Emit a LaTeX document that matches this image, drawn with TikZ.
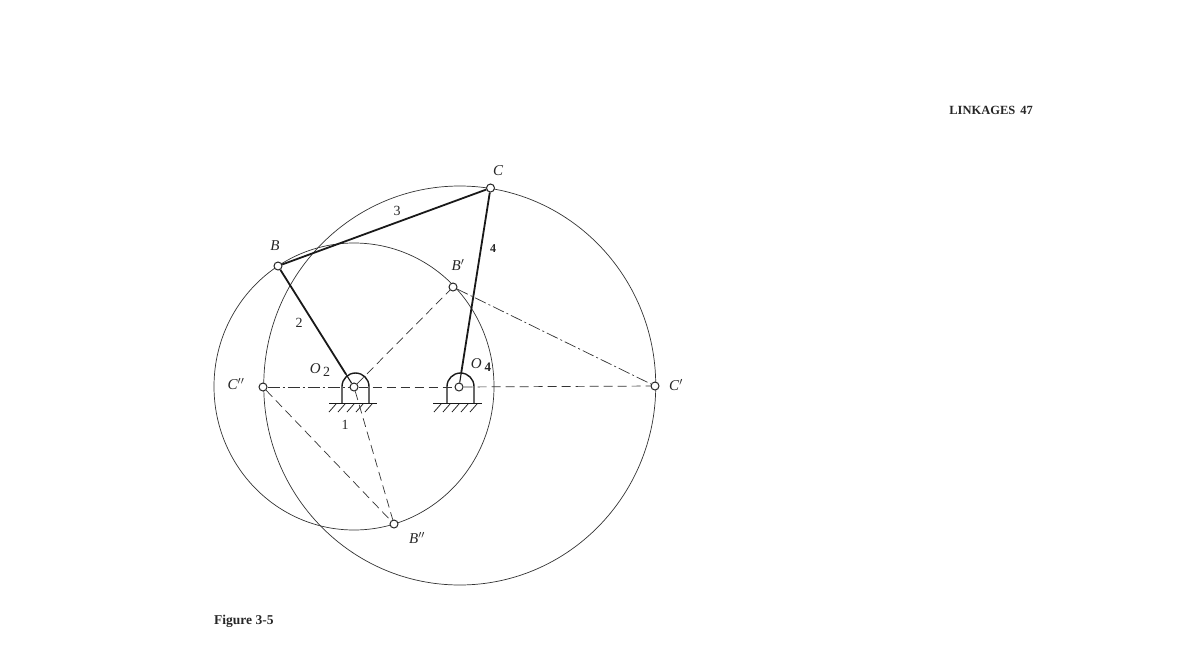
\documentclass[tikz,border=0pt]{standalone}
\usepackage{fontspec}
\usetikzlibrary{shapes.geometric,calc}
\setmainfont{Liberation Serif}
\tikzset{
  pivot/.style={circle,draw=black!85,fill=white,line width=1pt,inner sep=0pt,minimum size=8pt},
  orbit/.style={ellipse,draw=black!80,line width=0.7pt,inner sep=0pt},
  link/.style={draw=black!90,line width=1.8pt},
  pinlink/.style={draw=black!90,line width=1.1pt},
  ghost/.style={draw=black!80,line width=0.7pt,dash pattern=on 9pt off 5pt},
  ghostdot/.style={draw=black!80,line width=0.7pt,dash pattern=on 12pt off 3pt on 2pt off 3pt},
  mount/.style={draw=black!90,line width=1.4pt},
  hatch/.style={draw=black!85,line width=0.8pt},
  lab/.style={inner sep=0pt,font=\fontsize{15}{15}\selectfont\itshape,text=black!85},
  num/.style={inner sep=0pt,font=\fontsize{14}{14}\selectfont,text=black!85}
}
\begin{document}
\begin{tikzpicture}[x=1pt,y=-1pt]
\useasboundingbox (0,0) rectangle (1186,667);
\node[orbit,minimum width=280pt,minimum height=287pt] (small) at (354,386.5) {};
\node[orbit,minimum width=392pt,minimum height=399pt] (large) at (459.75,385.5) {};
% bearings
\foreach \x/\a/\b in {355.5/329/377,460.5/433/482}{
  \draw[mount] (\x-13.5,403.5) -- (\x-13.5,386.5) arc[start angle=180,end angle=360,radius=13.5] -- (\x+13.5,403.5);
  \draw[mount] (\a,403.5) -- (\b,403.5);
}
\foreach \x in {336,345,354,363,372}{\draw[hatch] (\x,404) -- (\x-7,412);}
\foreach \x in {441,450,459,468,477}{\draw[hatch] (\x,404) -- (\x-7,412);}
% joints
\node[pivot] (O2) at (354,387) {};
\node[pivot] (O4) at (459,387) {};
\node[pivot] (B) at (278,266) {};
\node[pivot] (C) at (490.5,188) {};
\node[pivot] (Bp) at (453,287) {};
\node[pivot] (Cp) at (655,386) {};
\node[pivot] (Cpp) at (263,387) {};
\node[pivot] (Bpp) at (394,524) {};
% connectors
\draw[ghost] (O2) -- (Bp);
\draw[ghost] (O2) -- (Bpp);
\draw[ghost] (Cpp) -- (Bpp);
\draw[ghostdot] (Bp) -- (Cp);
\draw[ghostdot] (Cpp) -- (O2);
\draw[ghost] (O2) -- (O4);
\draw[ghost] (O4) -- (Cp);
\coordinate (kneeA) at ($(O2)!0.105!(B)$);
\coordinate (kneeB) at ($(O4)!0.07!(C)$);
\draw[pinlink] (O2) -- (kneeA);
\draw[pinlink] (O4) -- (kneeB);
\draw[link] (kneeA) -- (B);
\draw[link] (B) -- (C);
\draw[link] (C) -- (kneeB);
% labels
\node[lab] (lB) at (275,246) {B};
\node[lab] (lC) at (498,171) {C};
\node[lab] (lBp) at (458,265) {B$'$};
\node[lab] (lCp) at (676,385) {C$'$};
\node[lab] (lCpp) at (236,384) {C$''$};
\node[lab] (lBpp) at (417,538) {B$''$};
\node[lab] (lO2) at (320,370) {O\raisebox{-3pt}{\,\normalfont\fontsize{14}{14}\selectfont 2}};
\node[lab] (lO4) at (481,365) {O\raisebox{-3pt}{\hspace{3pt}\normalfont\bfseries\fontsize{13}{13}\selectfont 4}};
\node[num] (n1) at (345,425) {1};
\node[num] (n2) at (299,323) {2};
\node[num] (n3) at (397,211) {3};
\node[num,font=\fontsize{12}{12}\selectfont\bfseries] (n4) at (493,249) {4};
\node[inner sep=0pt,anchor=west,font=\fontsize{13.5}{14}\selectfont\bfseries,text=black!85] (fig) at (214,621) {Figure 3-5};
\node[inner sep=0pt,anchor=east,font=\fontsize{12.5}{14}\selectfont\bfseries,text=black!85] (head) at (1033,110) {LINKAGES\hspace{5pt}47};
\end{tikzpicture}
\end{document}
